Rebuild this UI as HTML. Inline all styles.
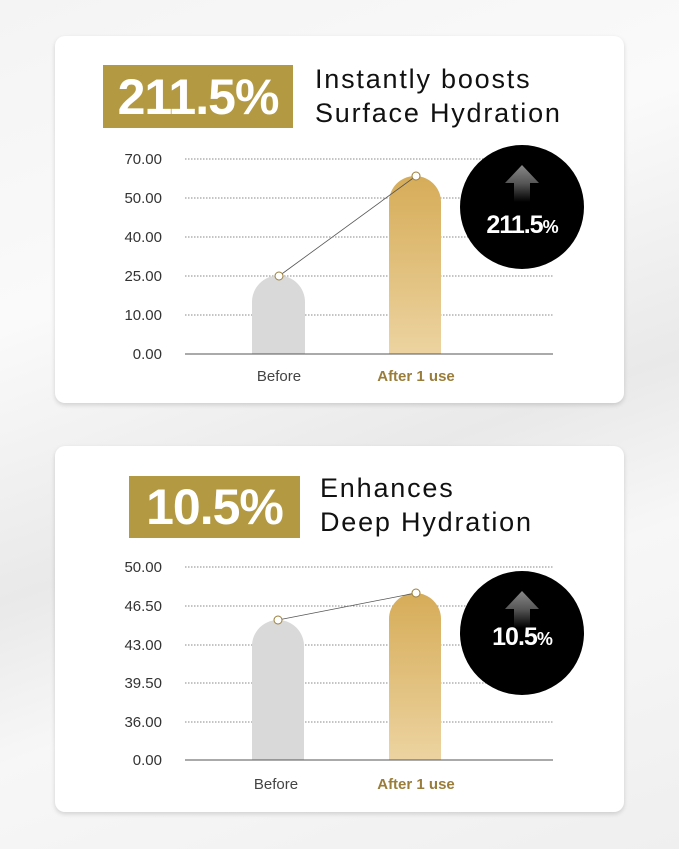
<!DOCTYPE html>
<html><head><style>
body{margin:0;width:679px;height:849px;overflow:hidden;font-family:"Liberation Sans",sans-serif;background:linear-gradient(160deg,#f4f4f4 0%,#fafafa 30%,#e9e9e9 55%,#f7f7f7 70%,#efefef 100%);position:relative}
.card{position:absolute;left:55px;width:569px;background:#fff;border-radius:10px;box-shadow:0 2px 5px rgba(0,0,0,.15)}
.gold{position:absolute;background:#b39a42;color:#fff;font-weight:bold;text-align:center;letter-spacing:-1px}
.title{position:absolute;font-size:27px;line-height:34px;color:#111;letter-spacing:1.8px}
</style></head><body>
<div class="card" style="top:36px;height:367px"></div>
<div class="card" style="top:446px;height:366px"></div>
<div class="gold" style="left:103px;top:65px;width:190px;height:63px;font-size:50px;line-height:64px">211.5%</div>
<div class="title" style="left:315px;top:62px">Instantly boosts<br>Surface Hydration</div>
<div class="gold" style="left:129px;top:476px;width:171px;height:62px;font-size:50px;line-height:63px">10.5%</div>
<div class="title" style="left:320px;top:471px">Enhances<br>Deep Hydration</div>
<svg width="679" height="849" style="position:absolute;left:0;top:0" font-family="Liberation Sans, sans-serif">
<defs>
<linearGradient id="g" x1="0" y1="0" x2="0" y2="1"><stop offset="0" stop-color="#d6ac58"/><stop offset="1" stop-color="#ecd3a0"/></linearGradient>
<linearGradient id="a" x1="0" y1="0" x2="0" y2="1"><stop offset="0" stop-color="#888"/><stop offset="0.5" stop-color="#555"/><stop offset="1" stop-color="#000"/></linearGradient>
</defs>
<g font-size="15" fill="#333" text-anchor="end">
<text x="162" y="164">70.00</text><text x="162" y="203">50.00</text><text x="162" y="242">40.00</text><text x="162" y="281">25.00</text><text x="162" y="320">10.00</text><text x="162" y="359">0.00</text>
<text x="162" y="572">50.00</text><text x="162" y="611">46.50</text><text x="162" y="650">43.00</text><text x="162" y="688">39.50</text><text x="162" y="727">36.00</text><text x="162" y="765">0.00</text>
</g>
<g stroke="#888" stroke-dasharray="1.5 1.5" stroke-width="1">
<line x1="185" y1="159" x2="553" y2="159"/><line x1="185" y1="198" x2="553" y2="198"/><line x1="185" y1="237" x2="553" y2="237"/><line x1="185" y1="276" x2="553" y2="276"/><line x1="185" y1="315" x2="553" y2="315"/>
<line x1="185" y1="567" x2="553" y2="567"/><line x1="185" y1="606" x2="553" y2="606"/><line x1="185" y1="645" x2="553" y2="645"/><line x1="185" y1="683" x2="553" y2="683"/><line x1="185" y1="722" x2="553" y2="722"/>
</g>
<path d="M252 354V302A26.5 26.5 0 0 1 305 302V354Z" fill="#d9d9d9"/>
<path d="M389 354V202A26 26 0 0 1 441 202V354Z" fill="url(#g)"/>
<path d="M252 760V646A26 26 0 0 1 304 646V760Z" fill="#d9d9d9"/>
<path d="M389 760V619A26 26 0 0 1 441 619V760Z" fill="url(#g)"/>
<line x1="185" y1="354" x2="553" y2="354" stroke="#555"/>
<line x1="185" y1="760" x2="553" y2="760" stroke="#555"/>
<line x1="279" y1="276" x2="416" y2="176" stroke="#555" stroke-width=".8"/>
<line x1="278" y1="620" x2="416" y2="593" stroke="#555" stroke-width=".8"/>
<g fill="#fff" stroke="#9a7d3a" stroke-width="1"><circle cx="279" cy="276" r="4"/><circle cx="416" cy="176" r="4"/><circle cx="278" cy="620" r="4"/><circle cx="416" cy="593" r="4"/></g>
<circle cx="522" cy="207" r="62" fill="#000"/>
<circle cx="522" cy="633" r="62" fill="#000"/>
<path d="M522 165L539 183H530V202H514V183H505Z" fill="url(#a)"/>
<path d="M522 591L539 609H530V628H514V609H505Z" fill="url(#a)"/>
<text x="522" y="233" fill="#fff" font-size="25" font-weight="bold" text-anchor="middle" letter-spacing="-1">211.5<tspan font-size="18">%</tspan></text>
<text x="522" y="645" fill="#fff" font-size="25" font-weight="bold" text-anchor="middle" letter-spacing="-1">10.5<tspan font-size="18">%</tspan></text>
<g font-size="15" text-anchor="middle">
<text x="279" y="381" fill="#444">Before</text><text x="416" y="381" fill="#9a7d3a" font-weight="bold">After 1 use</text>
<text x="276" y="789" fill="#444">Before</text><text x="416" y="789" fill="#9a7d3a" font-weight="bold">After 1 use</text>
</g>
</svg>
</body></html>
